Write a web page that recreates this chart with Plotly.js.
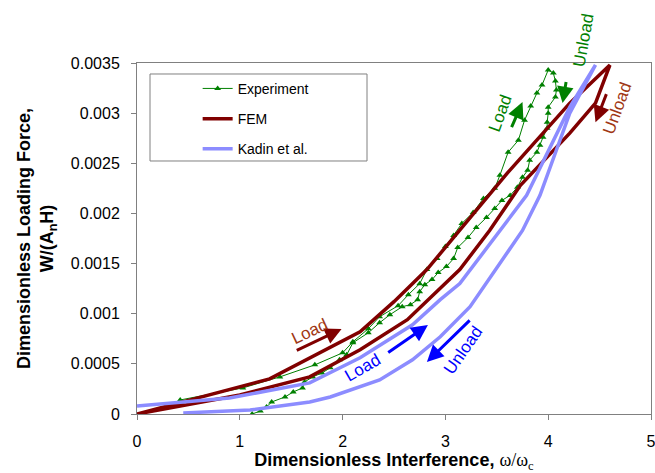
<!DOCTYPE html>
<html><head><meta charset="utf-8">
<script src="https://cdn.plot.ly/plotly-3.0.1.min.js"></script>
<style>html,body{margin:0;padding:0;background:#fff}</style>
</head><body>
<div id="chart" style="width:655px;height:473px"></div>
<script>
// Experiment (load then unload)
const expX = [0.42,1.03,1.39,1.73,2.0,2.1,2.25,2.36,2.54,2.64,2.75,2.82,2.92,3.0,3.08,3.16,3.27,3.37,3.48,3.53,3.61,3.71,3.77,3.83,3.89,3.94,4.0,4.05,
  4.07,4.08,4.07,4.0,4.0,3.99,3.99,3.95,3.92,3.89,3.82,3.8,3.75,3.7,3.63,3.55,3.48,3.4,3.3,3.22,3.12,3.08,3.01,2.93,2.87,2.8,2.75,2.73,2.66,2.58,2.46,2.36,2.25,2.1,2.04,1.97,1.88,1.8,1.71,1.63,1.61,1.52,1.44,1.31,1.26,1.2,1.12];
const expY = [0.00014,0.00026,0.00037,0.00049,0.00061,0.00072,0.00085,0.00097,0.00108,0.00119,0.0013,0.00144,0.00155,0.00167,0.00178,0.0019,0.00201,0.00215,0.00225,0.00238,0.00261,0.00273,0.00293,0.00307,0.0032,0.00328,0.00343,0.0034,
  0.00332,0.00323,0.00316,0.00306,0.003,0.00291,0.00285,0.00276,0.00268,0.00261,0.00253,0.00243,0.00236,0.00226,0.00218,0.00213,0.00205,0.00196,0.00186,0.00176,0.00166,0.00155,0.00147,0.00141,0.00134,0.00129,0.00122,0.00114,0.00109,0.00107,0.00099,0.00091,0.00081,0.00071,0.00059,0.00054,0.00046,0.00041,0.00037,0.00032,0.00026,0.00022,0.00017,0.00012,0.00007,0.00003,0.0];
// FEM
const femX = [0,1.29,2.17,2.5,2.82,3.14,3.6,4.21,4.6,4.46,4.21,3.73,3.43,3.14,2.63,2.17,1.68,1.0,0];
const femY = [0,0.00035,0.00082,0.00112,0.00144,0.00183,0.0024,0.0031,0.00348,0.0031,0.0028,0.00228,0.00183,0.00144,0.00094,0.00064,0.00037,0.00019,0];
// Kadin et al.
const kadX = [0,0.9,1.68,2.17,2.68,2.95,3.14,3.53,3.79,4.21,4.46,4.21,3.92,3.75,3.24,2.95,2.68,2.36,1.88,1.68,1.1,0.45];
const kadY = [0.00008,0.00016,0.00031,0.00056,0.00089,0.00114,0.0013,0.00183,0.00218,0.00306,0.00348,0.0030,0.00218,0.00183,0.00107,0.00077,0.00054,0.00034,0.00017,0.00012,0.00004,0.00001];
// Ticks
const yTickVals = [0,0.0005,0.001,0.0015,0.002,0.0025,0.003,0.0035];
const yTickText = ["0","0.0005","0.001","0.0015","0.002","0.0025","0.003","0.0035"];
const xTickVals = [0,1,2,3,4,5];

const FONT = "Arial, 'Liberation Sans', sans-serif";
const RED = "rgb(128,0,0)", REDTXT = "rgb(160,55,20)", BLUE = "rgb(0,0,255)", GREEN = "rgb(0,128,0)", KBLUE = "rgb(140,140,255)";

const traces = [
  {x: expX, y: expY, name: "Experiment", mode: "lines+markers", legendgroup: "a",
   line: {color: GREEN, width: 1}, marker: {symbol: "triangle-up", size: 6, color: GREEN}},
  {x: femX, y: femY, name: "FEM", mode: "lines", legendgroup: "b",
   line: {color: RED, width: 3.5}},
  {x: kadX, y: kadY, name: "Kadin et al.", mode: "lines", legendgroup: "c",
   line: {color: KBLUE, width: 3.5}}
];

function arrow(x0, y0, x1, y1, color) {
  return {x: x1, y: y1, ax: x0, ay: y0, xref: "x", yref: "y", axref: "x", ayref: "y",
    text: " ", showarrow: true, arrowhead: 2, arrowsize: 1.1, arrowwidth: 3, arrowcolor: color};
}
function label(x, y, t, ang, color, xref, yref) {
  return {x: x, y: y, xref: xref || "x", yref: yref || "y", xanchor: "center", yanchor: "middle",
    text: t, showarrow: false, textangle: ang,
    font: {family: FONT, size: 17, color: color}};
}

const layout = {
  width: 655, height: 473,
  margin: {l: 137, r: 4, t: 63, b: 59},
  paper_bgcolor: "#fff", plot_bgcolor: "#fff",
  font: {family: FONT, size: 16, color: "#000"},
  showlegend: true,
  legend: {x: 0.118, y: 0.972, xanchor: "left", yanchor: "top", bgcolor: "rgba(0,0,0,0)",
    font: {family: FONT, size: 14, color: "#000"}, tracegroupgap: 9, borderwidth: 0},
  xaxis: {range: [0, 5], tickvals: xTickVals, ticks: "outside", ticklen: 5, tickcolor: "#808080",
    showline: true, linecolor: "#808080", linewidth: 1, mirror: true, showgrid: false, zeroline: false,
    ticklabelstandoff: 8, ticklabeloverflow: "allow",
    title: {text: "<b>Dimensionless Interference, </b><span style='font-family:Liberation Serif, Times New Roman, serif'>ω/ω<sub>c</sub></span>",
      font: {family: FONT, size: 18}, standoff: 4}},
  yaxis: {range: [0, 0.0035], tickvals: yTickVals, ticktext: yTickText, ticks: "outside", ticklen: 5, tickcolor: "#808080",
    showline: true, linecolor: "#808080", linewidth: 1, mirror: true, showgrid: false, zeroline: false,
    ticklabelstandoff: 8, ticklabeloverflow: "allow",
    title: {text: "<b>Dimensionless Loading Force,<br>W/(A<sub>n</sub>H)</b>", font: {family: FONT, size: 18}, standoff: 12}},
  shapes: [{type: "rect", xref: "paper", yref: "paper", x0: 0.0253, x1: 0.4475, y0: 0.7208, y1: 0.9687,
    line: {color: "#808080", width: 1}, fillcolor: "rgba(0,0,0,0)"}],
  annotations: [
    arrow(1.52, 0.000618, 1.99, 0.000848, RED),
    label(1.68, 0.000818, "Load", -25, REDTXT),
    arrow(2.41, 0.000588, 2.83, 0.000887, BLUE),
    label(2.2, 0.000459, "Load", -30, BLUE),
    arrow(3.27, 0.000967, 2.82, 0.000519, BLUE),
    label(3.17, 0.000638, "Unload", -55, BLUE),
    arrow(3.61, 0.00278, 3.75, 0.00311, GREEN),
    label(3.53, 0.0030, "Load", -70, GREEN),
    arrow(4.19, 0.00341, 4.14, 0.0031, GREEN),
    label(0.868, 1.0655, "Unload", -80, GREEN, "paper", "paper"),
    arrow(4.6, 0.00328, 4.46, 0.00291, RED),
    label(4.67, 0.00305, "Unload", -70, REDTXT)
  ]
};
Plotly.newPlot("chart", traces, layout, {displayModeBar: false, staticPlot: true});
</script>
</body></html>
